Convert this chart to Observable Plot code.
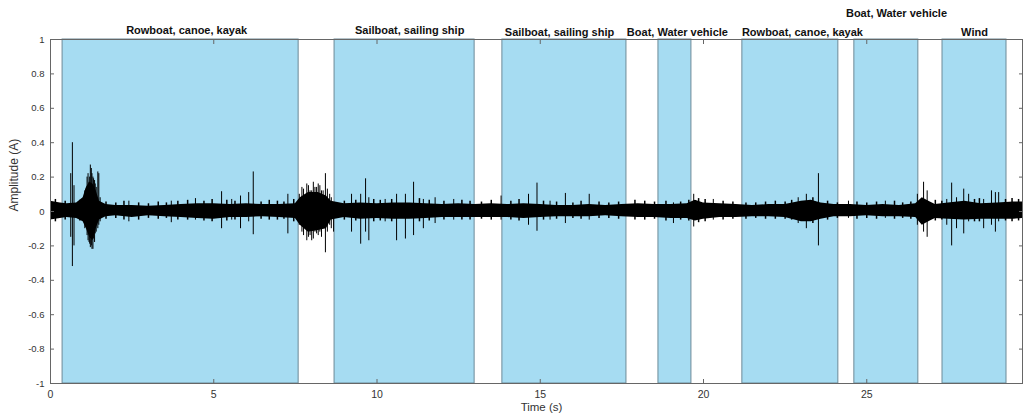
<!DOCTYPE html>
<html>
<head>
<meta charset="utf-8">
<script src="https://cdn.jsdelivr.net/npm/d3@7"></script>
<script src="https://cdn.jsdelivr.net/npm/@observablehq/plot@0.6"></script>
<style>
  html, body { margin: 0; padding: 0; background: #fff; }
  #chart svg { display: block; font-family: "Liberation Sans", Arial, Helvetica, sans-serif; }
</style>
</head>
<body>
<div id="chart"></div>
<script>
// Labelled regions (seconds)
const regionStart = [0.37, 8.70, 13.84, 18.62, 21.19, 24.62, 27.32];
const regionEnd   = [7.60, 12.99, 17.64, 19.63, 24.13, 26.58, 29.28];
const labelNames  = ["Rowboat, canoe, kayak", "Sailboat, sailing ship", "Sailboat, sailing ship",
                     "Boat, Water vehicle", "Rowboat, canoe, kayak", "Boat, Water vehicle", "Wind"];
const labelTime   = [4.17, 11.0, 15.59, 19.2, 23.03, 25.91, 28.3];
const labelLevel  = [1.055, 1.055, 1.039, 1.039, 1.039, 1.153, 1.039];

// Waveform envelope (time s, upper / lower amplitude)
const bandT  = [0, 0.3, 0.5, 0.8, 1.0, 1.1, 1.2, 1.3, 1.4, 1.5, 1.7, 2.0, 2.5, 3.0, 3.5, 4.0, 4.5, 5.0, 5.5, 6.0,
                6.5, 7.0, 7.5, 7.65, 7.9, 8.2, 8.45, 8.6, 9.0, 9.5, 10.0, 10.5, 11.0, 11.5, 12.0, 12.5, 13.0, 13.5, 14.0, 14.5,
                15.0, 15.5, 16.0, 16.5, 17.0, 17.5, 18.0, 18.5, 19.0, 19.5, 19.75, 20.0, 20.5, 21.0, 21.5, 22.0, 22.5, 23.0, 23.3, 23.6,
                24.0, 24.5, 25.0, 25.5, 26.0, 26.5, 26.7, 26.9, 27.1, 27.5, 28.0, 28.5, 29.0, 29.5, 29.77];
const bandHi = [0.06, 0.05, 0.045, 0.05, 0.08, 0.14, 0.17, 0.16, 0.12, 0.06, 0.04, 0.035, 0.035, 0.03, 0.035, 0.04, 0.045, 0.045, 0.04, 0.045,
                0.04, 0.04, 0.045, 0.08, 0.11, 0.11, 0.09, 0.06, 0.045, 0.05, 0.045, 0.05, 0.05, 0.045, 0.04, 0.045, 0.04, 0.045, 0.04, 0.045,
                0.04, 0.035, 0.035, 0.04, 0.035, 0.04, 0.045, 0.04, 0.04, 0.045, 0.065, 0.05, 0.045, 0.04, 0.035, 0.04, 0.04, 0.06, 0.065, 0.05,
                0.04, 0.04, 0.035, 0.04, 0.035, 0.045, 0.08, 0.06, 0.04, 0.05, 0.06, 0.045, 0.05, 0.055, 0.055];
const bandLo = [-0.05, -0.04, -0.035, -0.04, -0.06, -0.10, -0.15, -0.17, -0.10, -0.05, -0.03, -0.025, -0.035, -0.025, -0.03, -0.035, -0.04, -0.045, -0.035, -0.035,
                -0.03, -0.035, -0.04, -0.08, -0.12, -0.11, -0.10, -0.05, -0.035, -0.045, -0.04, -0.045, -0.045, -0.04, -0.035, -0.035, -0.035, -0.035, -0.035, -0.04,
                -0.035, -0.03, -0.03, -0.03, -0.025, -0.03, -0.035, -0.035, -0.04, -0.04, -0.055, -0.045, -0.035, -0.035, -0.03, -0.03, -0.035, -0.06, -0.06, -0.045,
                -0.03, -0.03, -0.025, -0.03, -0.03, -0.035, -0.08, -0.06, -0.04, -0.045, -0.05, -0.045, -0.045, -0.045, -0.04];

// Transient spikes (time s, peak / trough)
const spikeT  = [0.62, 0.67, 0.72, 1.05, 1.08, 1.12, 1.15, 1.18, 1.2, 1.22, 1.25, 1.27, 1.3, 1.32, 1.35, 1.37, 1.4, 1.45, 1.48, 1.52,
                 2.4, 3.7, 4.44, 5.24, 5.55, 5.82, 6.07, 6.21, 7.27, 7.62, 7.7, 7.75, 7.85, 7.9, 7.95, 8.0, 8.05, 8.1, 8.15, 8.2,
                 8.25, 8.3, 8.35, 8.42, 8.48, 8.55, 8.6, 8.67, 9.22, 9.5, 9.65, 9.75, 10.25, 10.6, 10.87, 11.12, 11.42, 11.78, 12.35, 13.8,
                 14.64, 14.9, 15.3, 15.77, 16.5, 19.08, 19.7, 20.3, 22.9, 23.15, 23.52, 24.44, 25.57, 26.55, 26.74, 26.85, 27.45, 27.6, 27.75, 27.97,
                 28.12, 28.58, 28.82, 28.94, 29.04];
const spikeHi = [0.22, 0.40, 0.15, 0.12, 0.13, 0.20, 0.22, 0.17, 0.20, 0.27, 0.25, 0.22, 0.20, 0.19, 0.18, 0.16, 0.14, 0.23, 0.22, 0.08,
                 0.06, 0.06, 0.075, 0.115, 0.07, 0.09, 0.11, 0.23, 0.10, 0.10, 0.14, 0.13, 0.16, 0.15, 0.12, 0.12, 0.17, 0.14, 0.14, 0.16,
                 0.15, 0.12, 0.12, 0.22, 0.13, 0.10, 0.08, 0.05, 0.10, 0.10, 0.19, 0.08, 0.07, 0.10, 0.10, 0.17, 0.07, 0.08, 0.07, 0.09,
                 0.10, 0.165, 0.06, 0.105, 0.10, 0.05, 0.10, 0.07, 0.08, 0.10, 0.22, 0.06, 0.06, 0.10, 0.17, 0.12, 0.07, 0.165, 0.08, 0.13,
                 0.10, 0.07, 0.12, 0.11, 0.11];
const spikeLo = [-0.15, -0.32, -0.20, -0.10, -0.09, -0.14, -0.17, -0.18, -0.19, -0.21, -0.20, -0.22, -0.22, -0.16, -0.18, -0.13, -0.12, -0.10, -0.08, -0.06,
                 -0.06, -0.065, -0.05, -0.10, -0.05, -0.10, -0.06, -0.135, -0.13, -0.08, -0.12, -0.14, -0.17, -0.15, -0.14, -0.17, -0.16, -0.12, -0.13, -0.14,
                 -0.12, -0.15, -0.10, -0.24, -0.12, -0.08, -0.10, -0.12, -0.12, -0.19, -0.12, -0.17, -0.06, -0.17, -0.16, -0.14, -0.10, -0.07, -0.05, -0.05,
                 -0.08, -0.115, -0.05, -0.07, -0.05, -0.07, -0.09, -0.05, -0.07, -0.10, -0.20, -0.04, -0.04, -0.08, -0.12, -0.15, -0.08, -0.20, -0.10, -0.13,
                 -0.06, -0.10, -0.08, -0.12, -0.06];

// Small ripples along the noise floor (time s, peak / trough)
const fuzzT  = [0.15, 0.45, 0.9, 1.7, 2.0, 2.25, 2.7, 3.0, 3.3, 3.55, 3.9, 4.2, 4.7, 4.95, 5.4, 5.65, 6.45, 6.7, 6.95, 7.15,
                7.45, 9.0, 9.35, 9.9, 10.1, 10.45, 11.3, 11.6, 12.05, 12.6, 12.85, 13.2, 13.5, 14.1, 14.35, 15.1, 15.5, 16.0, 16.25, 16.8,
                17.1, 17.4, 17.9, 18.2, 18.5, 18.85, 19.3, 19.55, 19.85, 20.05, 20.6, 20.9, 21.3, 21.6, 21.9, 22.2, 22.5, 22.7, 23.35, 23.8,
                24.1, 24.7, 25.0, 25.3, 25.85, 26.1, 26.35, 27.1, 27.3, 28.3, 28.45, 29.25, 29.45, 29.65];
const fuzzHi = [0.07, 0.06, 0.065, 0.055, 0.05, 0.06, 0.05, 0.045, 0.055, 0.05, 0.06, 0.065, 0.06, 0.07, 0.065, 0.06, 0.055, 0.065, 0.06, 0.055,
                0.07, 0.06, 0.065, 0.07, 0.065, 0.07, 0.075, 0.065, 0.06, 0.065, 0.06, 0.055, 0.065, 0.06, 0.07, 0.06, 0.055, 0.05, 0.06, 0.055,
                0.05, 0.055, 0.065, 0.06, 0.055, 0.06, 0.055, 0.065, 0.075, 0.07, 0.06, 0.055, 0.05, 0.05, 0.055, 0.06, 0.055, 0.065, 0.08, 0.06,
                0.05, 0.055, 0.05, 0.055, 0.06, 0.05, 0.055, 0.065, 0.06, 0.07, 0.075, 0.07, 0.075, 0.07];
const fuzzLo = [-0.06, -0.05, -0.055, -0.045, -0.04, -0.05, -0.05, -0.04, -0.045, -0.04, -0.05, -0.05, -0.055, -0.06, -0.055, -0.05, -0.045, -0.05, -0.05, -0.045,
                -0.06, -0.05, -0.055, -0.06, -0.055, -0.06, -0.06, -0.055, -0.05, -0.05, -0.05, -0.045, -0.05, -0.05, -0.055, -0.05, -0.045, -0.04, -0.045, -0.04,
                -0.04, -0.045, -0.05, -0.05, -0.045, -0.055, -0.05, -0.055, -0.065, -0.06, -0.05, -0.045, -0.045, -0.04, -0.045, -0.045, -0.045, -0.05, -0.07, -0.05,
                -0.04, -0.045, -0.04, -0.045, -0.045, -0.04, -0.045, -0.055, -0.05, -0.06, -0.06, -0.055, -0.06, -0.055];

const xTicks = [0, 5, 10, 15, 20, 25];
const yTicks = [-1, -0.8, -0.6, -0.4, -0.2, 0, 0.2, 0.4, 0.6, 0.8, 1];

const regions = regionStart.map((s, i) => ({start: s, end: regionEnd[i]}));
const labels = labelNames.map((n, i) => ({name: n, t: labelTime[i], level: labelLevel[i]}));
const band = bandT.map((t, i) => ({t, hi: bandHi[i], lo: bandLo[i]}));
const spikes = spikeT.map((t, i) => ({t, hi: spikeHi[i], lo: spikeLo[i]}));
const fuzz = fuzzT.map((t, i) => ({t, hi: fuzzHi[i], lo: fuzzLo[i]}));

const fmt = d => String(d);
const blank = () => "";

const chart = Plot.plot({
  width: 1024,
  height: 420,
  marginLeft: 50,
  marginRight: 2,
  marginTop: 39,
  marginBottom: 37,
  style: {fontFamily: "'Liberation Sans', Arial, Helvetica, sans-serif", background: "#fff"},
  x: {domain: [0, 29.77]},
  y: {domain: [-1, 1]},
  marks: [
    Plot.rect(regions, {x1: "start", x2: "end", y1: -1, y2: 1, fill: "#a6dcf2", stroke: "#6d8a98", strokeWidth: 1}),
    Plot.areaY(band, {x: "t", y1: "lo", y2: "hi", fill: "#000", curve: "linear"}),
    Plot.ruleX(fuzz, {x: "t", y1: "lo", y2: "hi", stroke: "#000", strokeWidth: 1.5}),
    Plot.ruleX(spikes, {x: "t", y1: "lo", y2: "hi", stroke: "#000", strokeWidth: 1}),
    Plot.frame({stroke: "#666", strokeWidth: 1}),
    // inward ticks
    Plot.axisX(xTicks, {anchor: "bottom", tickSize: 4, dy: -4, tickFormat: blank, label: null, stroke: "#666"}),
    Plot.axisX(xTicks, {anchor: "top", tickSize: 4, dy: 4, tickFormat: blank, label: null, stroke: "#666"}),
    Plot.axisY(yTicks, {anchor: "left", tickSize: 4, dx: 4, tickFormat: blank, label: null, stroke: "#666"}),
    Plot.axisY(yTicks, {anchor: "right", tickSize: 4, dx: -4, tickFormat: blank, label: null, stroke: "#666"}),
    // tick labels
    Plot.axisX(xTicks, {anchor: "bottom", tickSize: 0, tickPadding: 7, tickFormat: fmt, label: null, fontSize: 10.5, fill: "#333"}),
    Plot.axisY(yTicks, {anchor: "left", tickSize: 0, tickPadding: 6, tickFormat: fmt, label: null, fontSize: 9.5, fill: "#333"}),
    Plot.text(["Time (s)"], {frameAnchor: "bottom", dx: 5, dy: 27, fontSize: 11.5, fill: "#333"}),
    Plot.text(["Amplitude (A)"], {frameAnchor: "left", dx: -36, rotate: -90, fontSize: 12, fill: "#333"}),
    // region labels
    Plot.text(labels, {x: "t", y: "level", text: "name", fontWeight: "bold", fontSize: 11, fill: "#111"})
  ]
});
document.getElementById("chart").appendChild(chart);
</script>
</body>
</html>
